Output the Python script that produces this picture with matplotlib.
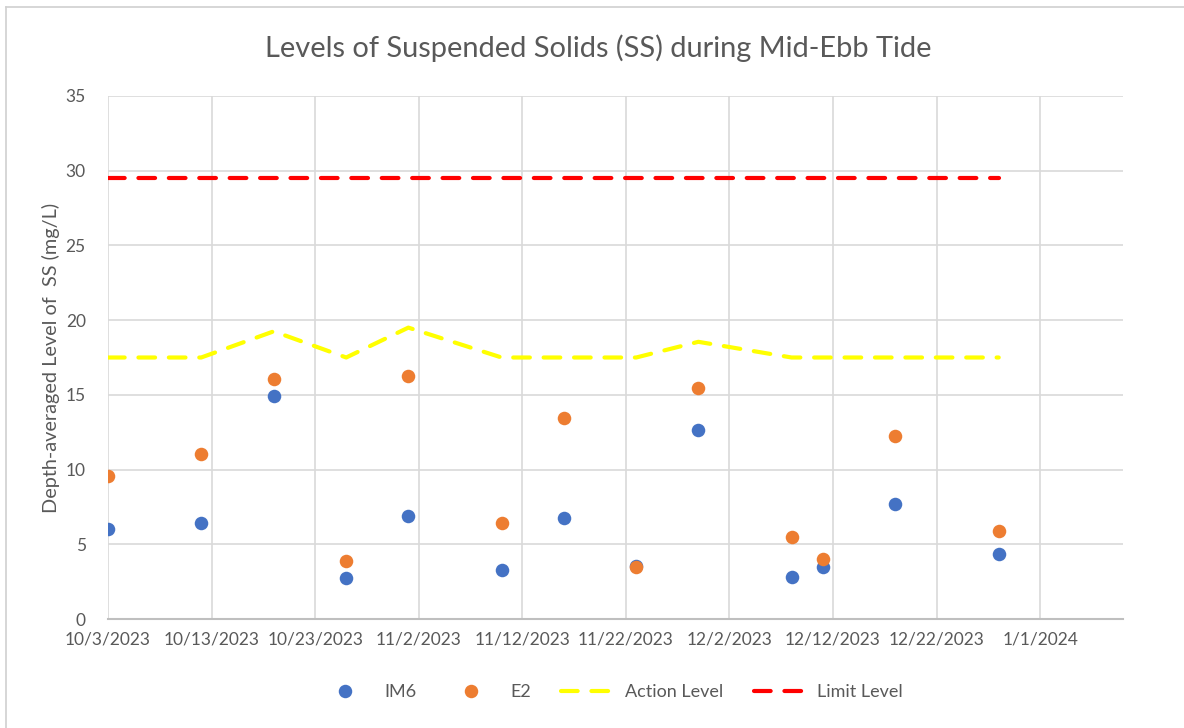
import matplotlib
matplotlib.use("Agg")
import matplotlib.pyplot as plt
from matplotlib.lines import Line2D
import pandas as pd

# ------------------------------------------------------------------------------
# Data
# ------------------------------------------------------------------------------
dates = pd.to_datetime(["2023-10-03", "2023-10-12", "2023-10-19", "2023-10-26",
                        "2023-11-01", "2023-11-10", "2023-11-16", "2023-11-23",
                        "2023-11-29", "2023-12-08", "2023-12-11", "2023-12-18",
                        "2023-12-28"])
im6 = [6.0, 6.4, 14.9, 2.75, 6.9, 3.3, 6.75, 3.55, 12.65, 2.8, 3.45, 7.7, 4.35]
e2 = [9.6, 11.05, 16.05, 3.85, 16.25, 6.45, 13.45, 3.45, 15.45, 5.5, 4.0, 12.25, 5.9]
action = [17.5, 17.5, 19.25, 17.5, 19.5, 17.5, 17.5, 17.5, 18.55, 17.5, 17.5, 17.5, 17.5]
limit = [29.5] * 13

x_start = pd.Timestamp("2023-10-03")
x_end = pd.Timestamp("2024-01-09")

# ------------------------------------------------------------------------------
# Plot characteristics
# ------------------------------------------------------------------------------
plt.rcParams['font.family'] = ['Lato', 'DejaVu Sans']
txt = '#595959'
grid = '#D9D9D9'
c_im6 = '#4472C4'
c_e2 = '#ED7D31'

fig = plt.figure(figsize=(11.84, 7.28), dpi=100)
ax = fig.add_axes([108/1184, 1 - 619/728, (1123 - 108)/1184, (619 - 96)/728])

# chart border (top and left visible)
fig.add_artist(Line2D([6/1184, 6/1184], [0, 1 - 7/728], color='#D0D0D0', lw=1.2,
                      transform=fig.transFigure))
fig.add_artist(Line2D([6/1184, 1], [1 - 7/728, 1 - 7/728], color='#D0D0D0', lw=1.2,
                      transform=fig.transFigure))

ax.plot(dates, limit, color='#FF0000', lw=3, dashes=(4, 3.3),
        dash_capstyle='round', zorder=3)
ax.plot(dates, action, color='#FFFF00', lw=3, dashes=(4, 3.3),
        dash_capstyle='round', zorder=3)
ax.scatter(dates, im6, s=95, color=c_im6, zorder=4, linewidths=0)
ax.scatter(dates, e2, s=95, color=c_e2, zorder=5, linewidths=0)

ax.set_xlim(x_start, x_end)
ax.set_ylim(0, 35)
ax.set_yticks(range(0, 36, 5))
ticks = pd.date_range("2023-10-03", "2024-01-01", freq="10D")
ax.set_xticks(ticks)
ax.set_xticklabels([f"{d.month}/{d.day}/{d.year}" for d in ticks])

ax.grid(True, color=grid, lw=1.2)
ax.set_axisbelow(True)
for sp in ['top', 'right', 'left']:
    ax.spines[sp].set_visible(False)
ax.spines['bottom'].set_color('#BFBFBF')
ax.spines['bottom'].set_linewidth(1.5)
ax.tick_params(length=0, labelsize=12.5, colors=txt, pad=9)
ax.tick_params(axis='y', pad=16)

ax.set_ylabel("Depth-averaged Level of  SS (mg/L)", fontsize=14.3, color=txt, labelpad=4)
fig.text(598/1184, 1 - 48/728, "Levels of Suspended Solids (SS) during Mid-Ebb Tide",
         ha='center', va='center', fontsize=20.9, color=txt)

# legend with proxy handles so markers sit in the middle of the key
handles = [
    Line2D([], [], ls='none', marker='o', ms=9.7, color=c_im6, mew=0),
    Line2D([], [], ls='none', marker='o', ms=9.7, color=c_e2, mew=0),
    Line2D([], [], color='#FFFF00', lw=3, dashes=(4, 3.3), dash_capstyle='round'),
    Line2D([], [], color='#FF0000', lw=3, dashes=(4, 3.3), dash_capstyle='round'),
]
labels = ['IM6', 'E2', 'Action Level', 'Limit Level']
fig.legend(handles, labels, loc='center',
           bbox_to_anchor=(612/1184, 1 - 692/728), ncol=4, frameon=False,
           fontsize=13, labelcolor=txt, handlelength=2.66, columnspacing=1.66,
           handletextpad=0.88)

plt.savefig('out.png', dpi=100)
